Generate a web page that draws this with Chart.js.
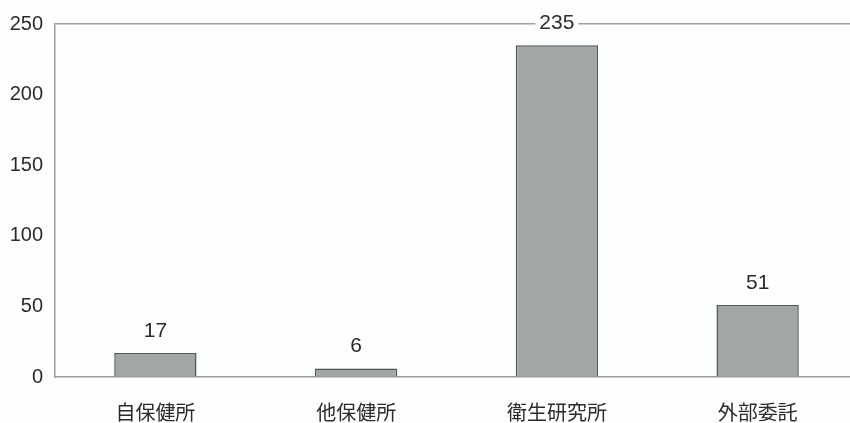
<!DOCTYPE html>
<html>
<head>
<meta charset="utf-8">
<script src="https://cdn.jsdelivr.net/npm/chart.js@4"></script>
<style>
  html, body { margin: 0; padding: 0; background: #fdfefe; overflow: hidden; }
  #wrap { width: 858px; height: 423px; }
</style>
</head>
<body>
<div id="wrap"><canvas id="bar-canva" width="858" height="423"></canvas></div>
<script>
const categories = ['自保健所', '他保健所', '衛生研究所', '外部委託'];
const counts = [17, 6, 235, 51];
const yTicks = [0, 50, 100, 150, 200, 250];

const canva = document.getElementById("bar-canva");

// value labels above bars, with a white box so the top line is cut
const valueLabels = {
  id: 'valueLabels',
  afterDatasetsDraw(chart) {
    const ctx = chart.ctx;
    const meta = chart.getDatasetMeta(0);
    ctx.save();
    ctx.font = '21px "Liberation Sans", sans-serif';
    ctx.textAlign = 'center';
    ctx.textBaseline = 'middle';
    meta.data.forEach((bar, i) => {
      const txt = String(counts[i]);
      const y = bar.y - 22;
      const w = ctx.measureText(txt).width;
      ctx.fillStyle = '#fdfefe';
      ctx.fillRect(bar.x - w / 2 - 4, y - 9, w + 8, 18);
      ctx.fillStyle = '#2b2b2b';
      ctx.fillText(txt, bar.x, y);
    });
    ctx.restore();
  }
};

const config = {
  type: 'bar',
  data: {
    labels: categories,
    datasets: [{
      data: counts,
      backgroundColor: '#a3a6a7',
      borderColor: '#555555',
      borderWidth: 1.5,
      barPercentage: 0.41,
      categoryPercentage: 1
    }]
  },
  options: {
    responsive: false,
    animation: false,
    layout: { padding: { top: 24, right: 0, left: 0, bottom: 0 } },
    plugins: {
      legend: { display: false },
      tooltip: { enabled: false }
    },
    scales: {
      x: {
        grid: { display: false, drawTicks: false },
        border: { color: '#9a9a9a', width: 1.5 },
        ticks: {
          color: '#2b2b2b',
          padding: 23,
          font: { family: '"Noto Sans CJK JP", sans-serif', size: 20 }
        },
        afterFit(scale) { scale.height = 46; }
      },
      y: {
        min: 0,
        max: 250,
        afterBuildTicks(scale) { scale.ticks = yTicks.map(v => ({ value: v })); },
        grid: {
          drawTicks: false,
          color: (c) => c.tick && c.tick.value === 250 ? '#a0a0a0' : 'rgba(0,0,0,0)',
          lineWidth: 1.5
        },
        border: { color: '#9a9a9a', width: 1.5 },
        ticks: {
          color: '#2b2b2b',
          padding: 12,
          font: { family: '"Liberation Sans", sans-serif', size: 20 }
        },
        afterFit(scale) { scale.width = 55; }
      }
    }
  },
  plugins: [valueLabels]
};

let chart = new Chart(canva, config);
</script>
</body>
</html>
